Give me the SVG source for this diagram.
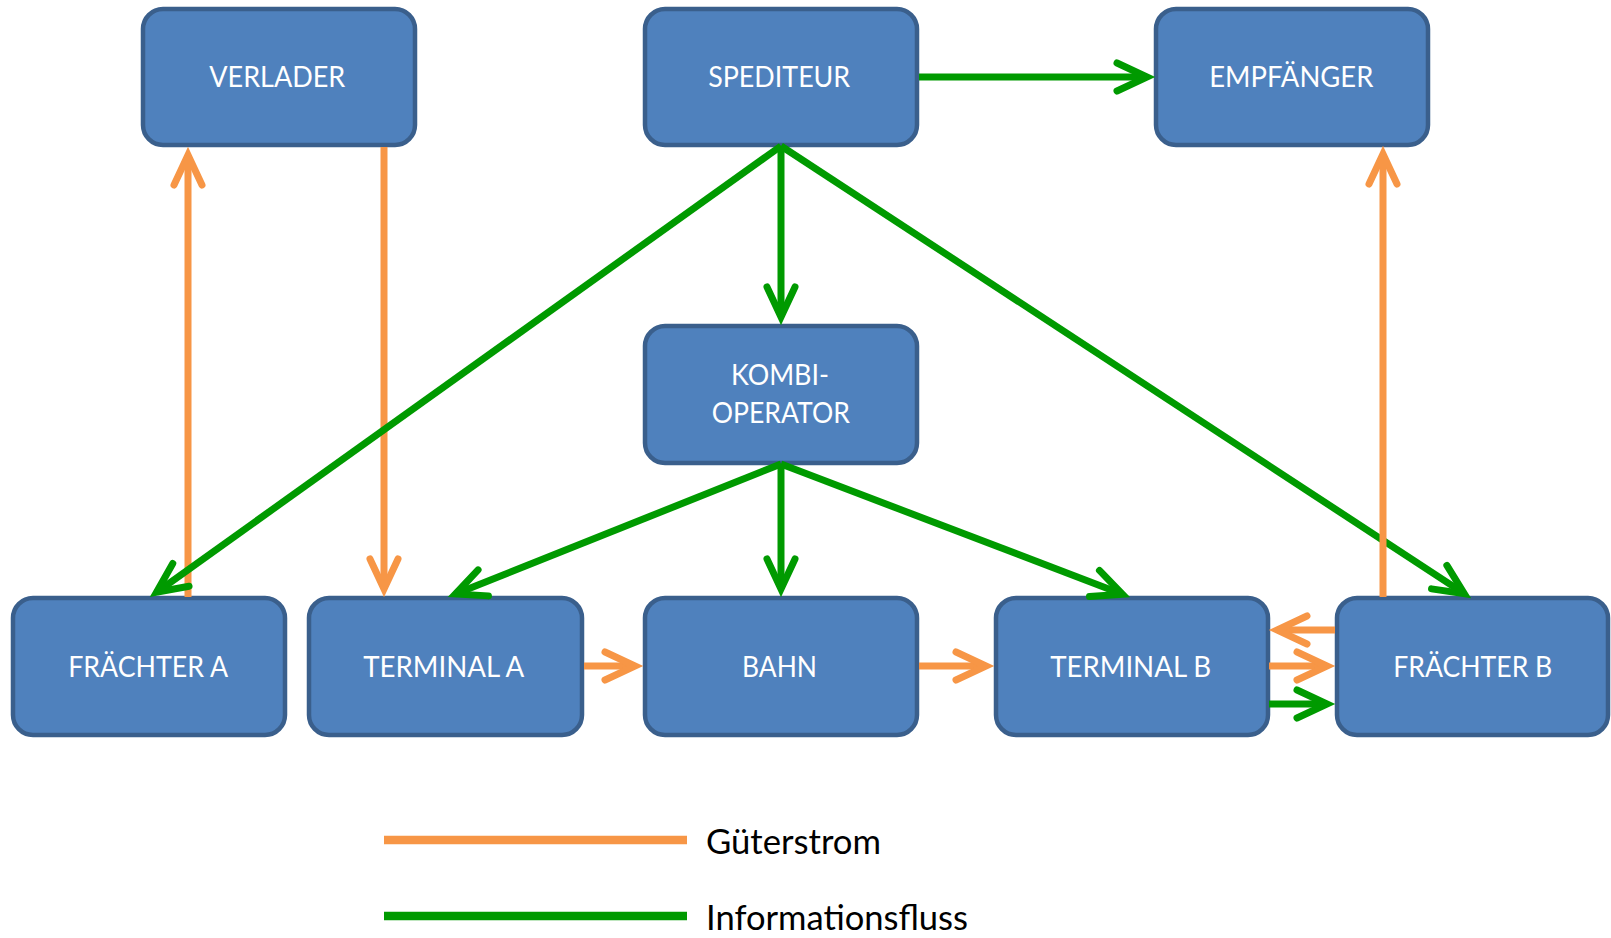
<svg xmlns="http://www.w3.org/2000/svg" width="1611" height="938" viewBox="0 0 1611 938">
<style>
.box{fill:#4F81BD;stroke:#3A5F8C;stroke-width:4.5}
.lbl{fill:#FFFFFF;font-family:Lato,"Open Sans","Liberation Sans",sans-serif;font-size:29px;text-anchor:middle}
.leg{fill:#000000;font-family:Lato,"Open Sans","Liberation Sans",sans-serif;font-size:34px}
.o{fill:none;stroke:#F79646;stroke-width:7}
.g{fill:none;stroke:#009A00;stroke-width:7}
</style>
<defs>
<marker id="arrO" markerUnits="userSpaceOnUse" orient="auto" refX="0" refY="0" markerWidth="40" markerHeight="40" overflow="visible">
<path d="M-30,-14 L0,0 L-30,14" fill="none" stroke="#F79646" stroke-width="7" stroke-linecap="round" stroke-linejoin="miter"/>
</marker>
<marker id="arrG" markerUnits="userSpaceOnUse" orient="auto" refX="0" refY="0" markerWidth="40" markerHeight="40" overflow="visible">
<path d="M-30,-14 L0,0 L-30,14" fill="none" stroke="#009A00" stroke-width="7" stroke-linecap="round" stroke-linejoin="miter"/>
</marker>
</defs>
<rect width="1611" height="938" fill="#FFFFFF"/>
<g id="verlader"><rect class="box" x="143" y="9" width="272" height="136" rx="20"/><text class="lbl" x="277.3" y="87" textLength="136" lengthAdjust="spacingAndGlyphs">VERLADER</text></g>
<g id="spediteur"><rect class="box" x="645" y="9" width="272" height="136" rx="20"/><text class="lbl" x="779.2" y="87" textLength="142" lengthAdjust="spacingAndGlyphs">SPEDITEUR</text></g>
<g id="empfaenger"><rect class="box" x="1156" y="9" width="272" height="136" rx="20"/><text class="lbl" x="1291.3" y="87" textLength="164" lengthAdjust="spacingAndGlyphs">EMPFÄNGER</text></g>
<g id="kombi"><rect class="box" x="645" y="326" width="272" height="137" rx="20"/><text class="lbl" x="780" y="385" textLength="98" lengthAdjust="spacingAndGlyphs">KOMBI-</text><text class="lbl" x="780.8" y="423" textLength="138" lengthAdjust="spacingAndGlyphs">OPERATOR</text></g>
<g id="fraechterA"><rect class="box" x="13" y="598" width="272" height="137" rx="20"/><text class="lbl" x="148.2" y="676.5" textLength="160" lengthAdjust="spacingAndGlyphs">FRÄCHTER A</text></g>
<g id="terminalA"><rect class="box" x="309" y="598" width="273" height="137" rx="20"/><text class="lbl" x="443.7" y="676.5" textLength="161" lengthAdjust="spacingAndGlyphs">TERMINAL A</text></g>
<g id="bahn"><rect class="box" x="645" y="598" width="272" height="137" rx="20"/><text class="lbl" x="779.5" y="676.5" textLength="75" lengthAdjust="spacingAndGlyphs">BAHN</text></g>
<g id="terminalB"><rect class="box" x="996" y="598" width="272" height="137" rx="20"/><text class="lbl" x="1130.7" y="676.5" textLength="161" lengthAdjust="spacingAndGlyphs">TERMINAL B</text></g>
<g id="fraechterB"><rect class="box" x="1337" y="598" width="271" height="137" rx="20"/><text class="lbl" x="1472.8" y="676.5" textLength="159" lengthAdjust="spacingAndGlyphs">FRÄCHTER B</text></g>
<g id="connectors">
<line class="o" x1="188" y1="597" x2="188" y2="155" marker-end="url(#arrO)"/>
<line class="o" x1="384" y1="147" x2="384" y2="589" marker-end="url(#arrO)"/>
<line class="g" x1="919" y1="77" x2="1147" y2="77" marker-end="url(#arrG)"/>
<line class="g" x1="781" y1="146" x2="781" y2="317" marker-end="url(#arrG)"/>
<line class="g" x1="781" y1="146" x2="156.5" y2="592.3" marker-end="url(#arrG)"/>
<line class="g" x1="781" y1="146" x2="1464.3" y2="593.6" marker-end="url(#arrG)"/>
<line class="g" x1="781" y1="464" x2="455.4" y2="594" marker-end="url(#arrG)"/>
<line class="g" x1="781" y1="464" x2="781" y2="589" marker-end="url(#arrG)"/>
<line class="g" x1="781" y1="464" x2="1122.5" y2="594.2" marker-end="url(#arrG)"/>
<line class="o" x1="584" y1="666" x2="635" y2="666" marker-end="url(#arrO)"/>
<line class="o" x1="919" y1="666" x2="986" y2="666" marker-end="url(#arrO)"/>
<line class="o" x1="1335" y1="630" x2="1277" y2="630" marker-end="url(#arrO)"/>
<line class="o" x1="1269" y1="666" x2="1327" y2="666" marker-end="url(#arrO)"/>
<line class="g" x1="1269" y1="704" x2="1327" y2="704" marker-end="url(#arrG)"/>
<line class="o" x1="1383" y1="597" x2="1383" y2="154" marker-end="url(#arrO)"/>
</g>
<g id="legend">
<line x1="384" y1="840" x2="687" y2="840" stroke="#F79646" stroke-width="8.7"/>
<line x1="384" y1="916" x2="687" y2="916" stroke="#009A00" stroke-width="8.7"/>
<text class="leg" x="706" y="854" textLength="175" lengthAdjust="spacingAndGlyphs">Güterstrom</text>
<text class="leg" x="706" y="930" textLength="262" lengthAdjust="spacingAndGlyphs">Informationsfluss</text>
</g>
</svg>
